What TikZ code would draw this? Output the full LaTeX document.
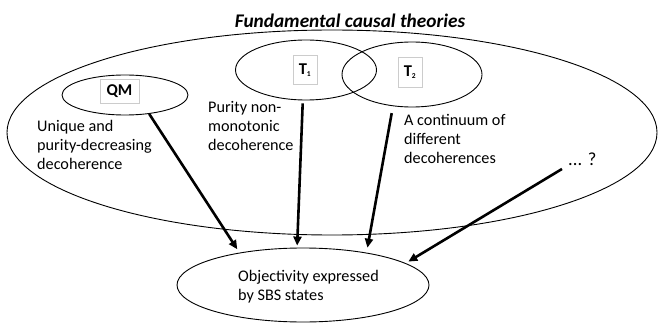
\documentclass[tikz,border=0pt]{standalone}
\usepackage{fontspec}
\setmainfont{Carlito}
\usetikzlibrary{shapes.geometric,arrows.meta}

\begin{document}
\begin{tikzpicture}[x=1pt,y=-1pt,font=\fontsize{16.2}{19}\selectfont,
  thy/.style={ellipse, draw, line width=0.9pt},
  lblbox/.style={draw=gray!40, line width=0.8pt, inner sep=3pt, font=\fontsize{16.5}{19}\selectfont\bfseries},
  txt/.style={anchor=north west, inner sep=0, align=left},
  arr/.style={line width=2.6pt, -{Triangle[length=9pt,width=8pt]}}]
\useasboundingbox (0,0) rectangle (660,323);
\node[font=\fontsize{19.3}{22}\selectfont\bfseries\itshape, anchor=base] (ttl) at (350,27.5){Fundamental causal theories};
\node[thy, minimum width=650pt, minimum height=205pt] (all) at (332,132.5){};
\node[thy, minimum width=126pt, minimum height=40pt] (thy0) at (125,95){};
\node[thy, minimum width=141pt, minimum height=60pt] (thy1) at (306,70){};
\node[thy, minimum width=140pt, minimum height=65pt] (thy2) at (412,74.5){};
\node[lblbox, minimum width=39pt, minimum height=24pt] (lbl0) at (119.5,91){QM};
\node[lblbox, minimum width=24pt, minimum height=29pt] (lbl1) at (305,70){T\textsubscript{\fontsize{7.5}{8}\selectfont 1}};
\node[lblbox, minimum width=24pt, minimum height=30pt] (lbl2) at (410,72){T\textsubscript{\fontsize{7.5}{8}\selectfont 2}};
\node[txt] (txt0) at (37,120){Unique and\\purity-decreasing\\decoherence};
\node[txt] (txt1) at (208,101){Purity non-\\monotonic\\decoherence};
\node[txt] (txt2) at (404,114.5){A continuum of\\different\\decoherences};
\node[font=\fontsize{18.5}{22}\selectfont, anchor=base west, inner sep=0] (more) at (568,165){... ?};
\node[thy, minimum width=252pt, minimum height=74pt] (obj) at (303,285){};
\node[txt] (txt3) at (238,270.5){Objectivity expressed\\by SBS states};
\draw[arr, shorten >=4pt](thy0.-38) -- (obj.153);
\draw[arr, shorten <=3pt, shorten >=2pt](thy1.-96) -- (obj.99);
\draw[arr, shorten <=7pt, shorten >=5pt](thy2.-121) -- (obj.27);
\draw[arr, shorten <=7pt, shorten >=3pt](more.south west) -- (obj.12);
\end{tikzpicture}
\end{document}
